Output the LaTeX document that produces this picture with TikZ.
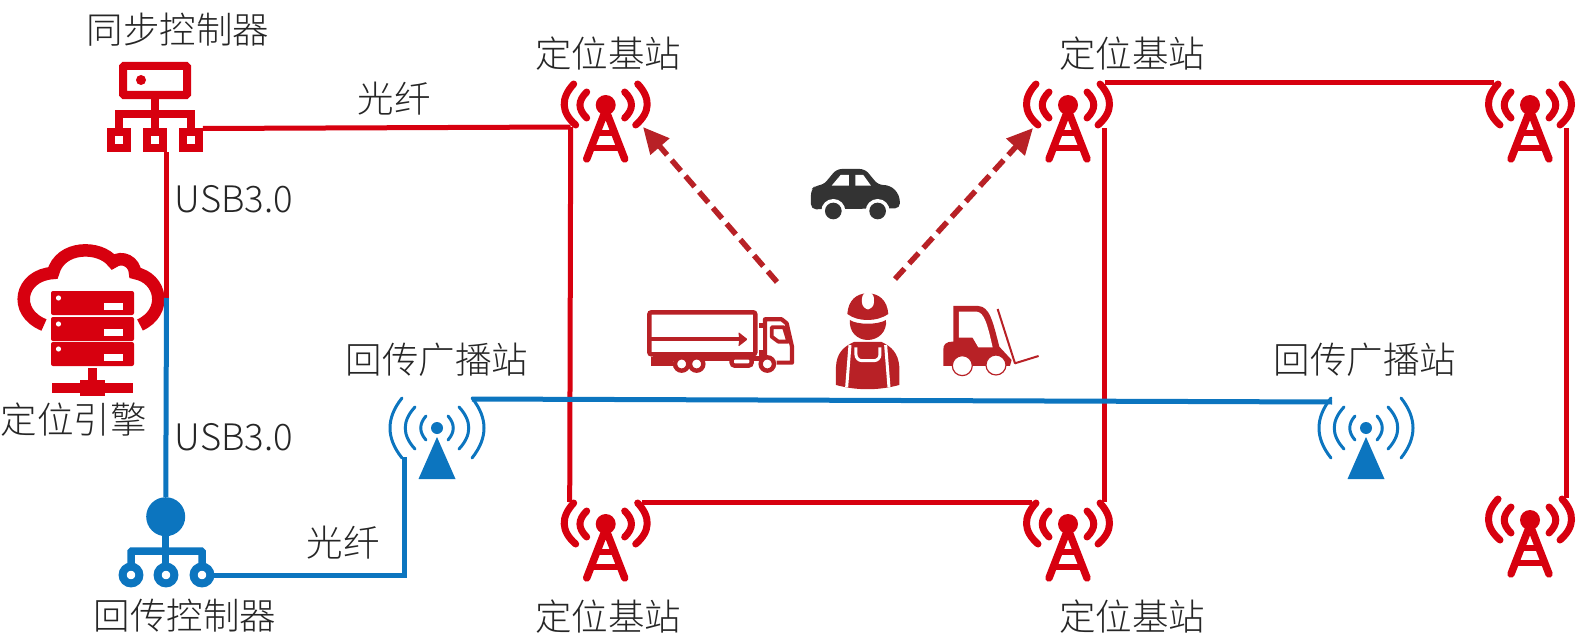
\documentclass[tikz,border=0pt]{standalone}
\usepackage{fontspec}
\usetikzlibrary{arrows.meta}
\setmainfont[UprightFont=* Light]{Noto Sans CJK SC}
\definecolor{towerred}{HTML}{D7000F}
\definecolor{darkred}{HTML}{B82126}
\definecolor{linkblue}{HTML}{0C75BF}
\definecolor{carblack}{HTML}{333333}
\tikzset{
    redtower/.pic={
        \fill[towerred] (0,0) circle (10);
        \draw[towerred, line width=7pt, line cap=round] (-32,-21) .. controls (-45,-7) and (-45,7) .. (-30,20);
        \draw[towerred, line width=7pt, line cap=round] (32,-21) .. controls (45,-7) and (45,7) .. (30,20);
        \draw[towerred, line width=7pt, line cap=round] (-19,-13) .. controls (-28,-4) and (-28,4) .. (-19,13);
        \draw[towerred, line width=7pt, line cap=round] (19,-13) .. controls (28,-4) and (28,4) .. (19,13);
        \draw[towerred, line width=7.5pt, line cap=round] (-19,54) -- (0,5) -- (19,54);
        \draw[towerred, line width=5.5pt] (-10,28) -- (10,28);
        \draw[towerred, line width=5.5pt] (-14,43) -- (14,43);
        \coordinate (-sw) at (-35,22);
        \coordinate (-nw) at (-36,-22);
        \coordinate (-se) at (36.5,23);
        \coordinate (-ne) at (36.5,-22);
    },
    bluetower/.pic={
        \fill[linkblue] (0,0) circle (6);
        \fill[linkblue] (0,9) -- (18.5,51) -- (-18.5,51) -- cycle;
        \foreach \sgn in {-1,1} {
            \draw[linkblue, line width=3pt, line cap=round] (\sgn*11,-12) .. controls (\sgn*18,-4) and (\sgn*18,4) .. (\sgn*11,12);
            \draw[linkblue, line width=3pt, line cap=round] (\sgn*22,-21) .. controls (\sgn*35,-7) and (\sgn*35,7) .. (\sgn*22,21);
            \draw[linkblue, line width=3pt, line cap=round] (\sgn*35,-30) .. controls (\sgn*51,-10) and (\sgn*51,10) .. (\sgn*35,30);
        }
        \coordinate (-sw) at (-33,29);
        \coordinate (-ne) at (35,-29);
        \coordinate (-nw) at (-34,-26);
    }
}
\begin{document}
\begin{tikzpicture}[
    x=1pt, y=-1pt,
    label/.style={font=\fontsize{36.5}{38}\selectfont, inner sep=0pt, text=black!85},
    redline/.style={towerred, line width=5pt},
    blueline/.style={linkblue, line width=5pt},
    dasharrow/.style={darkred, line width=5.5pt, dash pattern=on 14pt off 7pt, -{Triangle[length=26pt,width=24pt]}},
    zoomed/.style={x=0.3333pt, y=-0.3333pt}
]
\useasboundingbox (0,0) rectangle (1583,642);

% Labels
\node[label] (synclabel) at (178,30) {同步控制器};
\node[label] (enginelabel) at (74,420) {定位引擎};
\node[label] (backlabel) at (185,616) {回传控制器};
\node[label] (usba) at (234,199) {USB3.0};
\node[label] (usbb) at (234,437) {USB3.0};
\node[label] (fibera) at (394,99) {光纤};
\node[label] (fiberb) at (343,543) {光纤};
\node[label] (bstla) at (608,54) {定位基站};
\node[label] (bstlb) at (1132,54) {定位基站};
\node[label] (bstlc) at (608,617) {定位基站};
\node[label] (bstld) at (1132,617) {定位基站};
\node[label] (bhla) at (437,360) {回传广播站};
\node[label] (bhlb) at (1365,360) {回传广播站};

% Base stations
\pic (bsa) at (605.7,105) {redtower};
\pic (bsb) at (1068,105) {redtower};
\pic (bsc) at (1530,105) {redtower};
\pic (bsd) at (605.7,524) {redtower};
\pic (bse) at (1068,524) {redtower};
\pic (bsf) at (1530,520) {redtower};
\pic (bha) at (437,428) {bluetower};
\pic (bhb) at (1366,428) {bluetower};

% Sync controller
\draw[towerred, line width=8pt, rounded corners=1pt] (123,66) rectangle (187,95);
\fill[towerred] (141,80) circle (5);
\draw[towerred, line width=8pt] (155,99) -- (155,140);
\draw[towerred, line width=8pt] (119,130) -- (119,114) -- (191,114) -- (191,130);
\foreach \xa in {107,143,179} {
    \fill[towerred] (\xa,128) rectangle ++(24,24);
    \fill[white] (\xa+8,136) rectangle ++(8,8);
}
\coordinate (syncr) at (203,128.5);
\coordinate (syncb) at (166.5,152);

% Positioning engine
\draw[towerred, line width=12.5pt] (44,325) .. controls (12,312) and (20,275) .. (53,273)
    .. controls (60,245) and (100,245) .. (113,262) .. controls (122,255) and (135,262) .. (135,273)
    .. controls (162,278) and (168,312) .. (140,325);
\foreach \ya/\yb in {291/303,317/329,342/354} {
    \fill[towerred, rounded corners=2pt] (51,\ya) rectangle ++(83,24);
    \fill[white] (58.5,\ya+7) circle (2.6);
    \fill[white] (104,\yb) rectangle ++(19,6.5);
}
\fill[towerred] (88,368) rectangle (97,385);
\fill[towerred] (52,383) rectangle (133,393);
\fill[towerred] (80,380) rectangle (105,396);
\coordinate (enginer) at (166.5,298);

% Backhaul controller
\node[circle, fill=linkblue, minimum size=39pt, inner sep=0pt] (bhball) at (165.7,516.7) {};
\draw[linkblue, line width=7pt] (bhball) -- (165.7,565);
\draw[linkblue, line width=7.5pt, rounded corners=1pt] (131,566) -- (131,551) -- (202,551) -- (202,566);
\foreach \xa in {131,166,202}
    \draw[linkblue, line width=8pt, fill=white] (\xa,575) circle (8.4);
\coordinate (bhr) at (214,575);

% Links
\draw[redline] (syncr) -- (bsa-sw);
\draw[redline] (syncb) -- (enginer);
\draw[redline] (bsa-sw) -- (bsd-nw);
\draw[redline] (bsd-ne) -- (bse-nw);
\draw[redline] (bsb-se) -- (bse-ne);
\draw[redline] (bsb-ne) -- (bsc-nw);
\draw[redline] (bsc-se) -- (bsf-ne);
\draw[blueline] (enginer) -- (bhball);
\draw[blueline] (bhr) -| (bha-sw);
\draw[blueline] (bha-ne) -- (bhb-nw);

% Dashed arrows
\coordinate (arra) at (777,282);
\coordinate (tipa) at (643,127);
\coordinate (arrb) at (895,279);
\coordinate (tipb) at (1033,128);
\draw[dasharrow] (arra) -- (tipa);
\draw[dasharrow] (arrb) -- (tipb);

\begin{scope}[shift={(630,150)}, zoomed]
% Car
\fill[carblack, rounded corners=5pt] (543,120) -- (555,107) -- (580,105) -- (620,57) -- (705,57) -- (745,105)
    .. controls (785,105) and (810,125) .. (810,175) -- (543,178) -- cycle;
\fill[white] (605,107) -- (632,75) -- (657,75) -- (657,107) -- cycle;
\fill[white] (676,75) -- (700,75) -- (723,107) -- (676,107) -- cycle;
\foreach \xa in {610,743} {
    \fill[white] (\xa,183) circle (36);
    \fill[carblack] (\xa,183) circle (25);
}
% Truck
\draw[darkred, line width=4.4pt, rounded corners=2pt] (58,487) rectangle (376,613);
\draw[darkred, line width=4.2pt] (60,568) -- (340,568);
\fill[darkred, rounded corners=1pt] (325,546) -- (353,568) -- (325,590) -- (328,568) -- cycle;
\draw[darkred, line width=4.2pt, line join=round] (405,625) -- (405,508) -- (455,508) -- (470,520) -- (486,590) -- (486,638) -- (440,638);
\draw[darkred, line width=3.8pt, line join=round] (425,532) -- (462,532) -- (475,575) -- (445,575) -- (425,560) -- cycle;
\fill[darkred] (386,520) rectangle (400,625);
\fill[white] (386,535) rectangle (398,600);
\draw[darkred, line width=4.4pt] (70,620) -- (70,640) -- (130,640);
\draw[darkred, line width=4.4pt] (70,625) -- (400,625);
\draw[darkred, line width=4.4pt, rounded corners=3pt, fill=white] (305,622) rectangle (365,647);
\foreach \xa in {155,200,412}
    \draw[darkred, line width=4.4pt, fill=white] (\xa,642) circle (20);
% Worker
\fill[darkred] (652,492) .. controls (655,450) and (680,430) .. (713,430) .. controls (746,430) and (772,450) .. (775,492)
    .. controls (755,505) and (735,510) .. (713,510) .. controls (690,510) and (670,505) .. cycle;
\fill[white, rounded corners=7pt] (696,425) -- (696,478) -- (732,478) -- (732,425) -- cycle;
\fill[darkred] (660,510) .. controls (680,525) and (745,525) .. (768,510) .. controls (772,545) and (745,570) .. (713,570)
    .. controls (682,570) and (656,545) .. cycle;
\fill[darkred] (618,705) -- (618,650) .. controls (620,610) and (640,590) .. (672,576) -- (755,576)
    .. controls (785,590) and (805,610) .. (808,650) -- (808,705) .. controls (745,722) and (680,722) .. cycle;
\draw[white, line width=3pt] (650,712) -- (660,585);
\draw[white, line width=3pt] (777,712) -- (767,585);
\draw[white, line width=3pt, rounded corners=6pt] (678,592) -- (678,632) -- (750,632) -- (750,592);
% Forklift
\fill[darkred] (970,468) -- (1045,468) .. controls (1078,470) and (1088,510) .. (1108,590) -- (1145,630) -- (1140,648) -- (940,648)
    -- (940,600) .. controls (940,585) and (945,575) .. (970,575) -- cycle;
\fill[white] (987,485) -- (1040,485) .. controls (1062,487) and (1072,520) .. (1088,592) -- (1045,592) -- (1028,563) -- (987,563) -- cycle;
\draw[darkred, line width=1.2pt, fill=white] (997,647) circle (30);
\draw[darkred, line width=1.2pt, fill=white] (1098,645) circle (30);
\draw[darkred, line width=2pt, line join=round] (1103,477) -- (1155,640) -- (1226,618);
\end{scope}
\end{tikzpicture}
\end{document}
